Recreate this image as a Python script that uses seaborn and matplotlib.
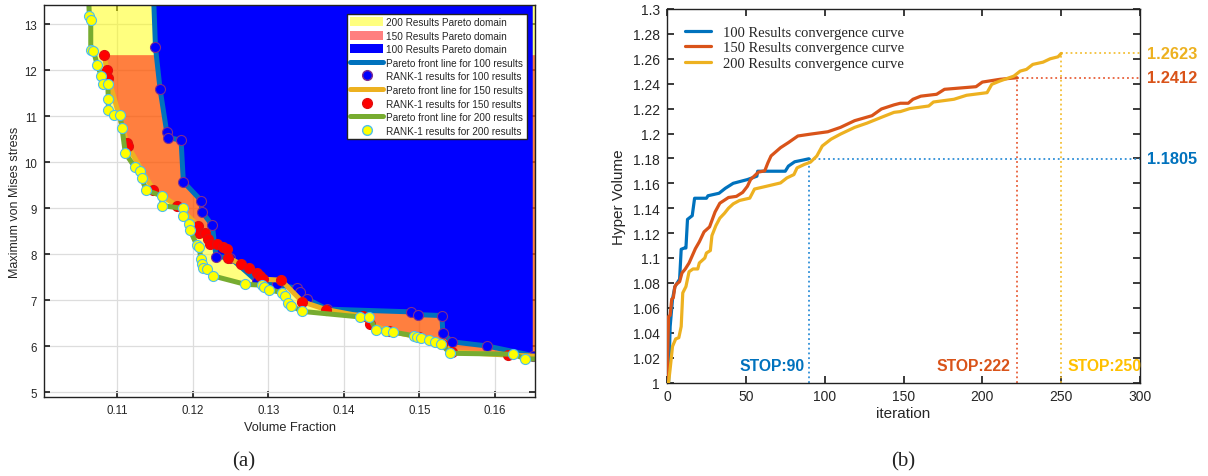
import numpy as np
import matplotlib
matplotlib.use("Agg")
import matplotlib.pyplot as plt
import matplotlib.transforms as mtransforms
import seaborn as sns
from matplotlib.patches import Patch
from matplotlib.lines import Line2D

# ---------------- data (a): Pareto fronts ----------------
front100_x = [0.1148, 0.11505, 0.11566, 0.11654, 0.11675, 0.11844, 0.11874, 0.12109, 0.12118,
              0.12258, 0.12306, 0.12493, 0.12846, 0.13112, 0.13376, 0.1342, 0.13517, 0.13774,
              0.1489, 0.14979, 0.15297, 0.1531, 0.15429, 0.15893, 0.1650]
front100_y = [13.6, 12.5, 11.59, 10.66, 10.54, 10.48, 9.58, 9.17, 8.93,
              8.63, 7.95, 7.93, 7.42, 7.35, 7.26, 7.19, 7.03, 6.81,
              6.75, 6.69, 6.67, 6.29, 6.10, 6.01, 5.80]

front150_x = [0.10828, 0.1086, 0.10881, 0.11125, 0.11138, 0.11477, 0.11795, 0.12073, 0.12086,
              0.12162, 0.12205, 0.12228, 0.12317, 0.12396, 0.12449, 0.12462, 0.12634, 0.1274,
              0.12846, 0.1289, 0.12934, 0.13168, 0.1345, 0.13764, 0.1425, 0.14348, 0.1460,
              0.1500, 0.1530, 0.1543, 0.16171, 0.1668]
front150_y = [12.33, 12.0, 11.84, 10.43, 10.36, 9.40, 9.05, 8.62, 8.47,
              8.46, 8.33, 8.22, 8.22, 8.15, 8.11, 7.93, 7.79, 7.71,
              7.60, 7.53, 7.46, 7.44, 6.97, 6.80, 6.65, 6.48, 6.33,
              6.20, 6.06, 5.88, 5.81, 5.78]

front200_x = [0.1062, 0.10629, 0.10648, 0.10648, 0.10682, 0.10735, 0.10788, 0.10815, 0.10873,
              0.10881, 0.10881, 0.1096, 0.11036, 0.11062, 0.11106, 0.1123, 0.11301, 0.11323,
              0.1138, 0.11588, 0.11588, 0.11866, 0.11866, 0.11954, 0.11963, 0.12052, 0.12086,
              0.12104, 0.12118, 0.12139, 0.12192, 0.12272, 0.12691, 0.12912, 0.12943, 0.13009,
              0.13177, 0.13221, 0.13265, 0.13301, 0.1345, 0.14215, 0.14334, 0.14427, 0.14559,
              0.14656, 0.1493, 0.14966, 0.15023, 0.15128, 0.15208, 0.15287, 0.15407, 0.16237,
              0.16404, 0.1668]
front200_y = [13.6, 13.18, 13.09, 12.44, 12.43, 12.115, 11.88, 11.70, 11.70,
              11.38, 11.14, 11.04, 11.04, 10.74, 10.20, 9.90, 9.82, 9.65,
              9.40, 9.27, 9.06, 9.0, 8.83, 8.66, 8.53, 8.20, 8.15,
              7.91, 7.79, 7.71, 7.69, 7.53, 7.35, 7.33, 7.30, 7.23,
              7.17, 7.10, 6.95, 6.88, 6.76, 6.64, 6.64, 6.35, 6.33,
              6.31, 6.23, 6.20, 6.18, 6.14, 6.10, 6.05, 5.85, 5.83,
              5.73, 5.72]

legend_a = ["200 Results Pareto domain", "150 Results Pareto domain", "100 Results Pareto domain",
            "Pareto front line for 100 results", "RANK-1 results for 100 results",
            "Pareto front line for 150 results", "RANK-1 results for 150 results",
            "Pareto front line for 200 results", "RANK-1 results for 200 results"]

# ---------------- data (b): convergence curves ----------------
iter100 = [0, 1, 2, 3.5, 5, 8, 9, 11, 12, 13, 16, 17.5, 25, 26, 33, 37, 42, 51, 57, 57.5,
           75, 77, 81, 86, 90]
hv100 = [1.0, 1.0, 1.045, 1.067, 1.077, 1.083, 1.107, 1.108, 1.108, 1.131, 1.134, 1.148,
         1.148, 1.150, 1.152, 1.156, 1.160, 1.163, 1.1657, 1.1697, 1.1697, 1.1738, 1.1773,
         1.1786, 1.1797]

iter150 = [0, 1, 2, 3, 4, 5, 6, 8, 9.5, 11.5, 14, 18, 20.5, 23.5, 27, 30.5, 33.5, 39, 44,
           48, 51, 53, 58, 62, 64, 66, 72, 77, 83, 91, 102, 110, 119, 130, 136, 144, 148,
           153, 156, 161, 171, 176, 196, 200, 211, 222]
hv150 = [1.0, 1.053, 1.054, 1.067, 1.068, 1.077, 1.079, 1.081, 1.088, 1.091, 1.096, 1.1075,
         1.113, 1.121, 1.125, 1.137, 1.144, 1.1486, 1.1495, 1.1527, 1.1576, 1.163, 1.169,
         1.170, 1.1765, 1.182, 1.1886, 1.1927, 1.198, 1.1995, 1.2014, 1.2049, 1.2103, 1.2143,
         1.2197, 1.223, 1.2243, 1.2243, 1.2275, 1.230, 1.2315, 1.2355, 1.2376, 1.2413,
         1.2435, 1.2448]

iter200 = [0, 1, 2, 3.5, 5.5, 7.5, 9, 10, 12, 14, 16.5, 19.5, 20.5, 24, 25, 27.5, 28.5, 31,
           33.5, 36.5, 39, 42, 46, 52.5, 55.5, 63, 72, 76, 80.5, 82.5, 87, 91, 95, 98.5, 104,
           110, 119, 127, 136, 144, 148, 154, 166, 169, 182, 190, 203, 206, 211, 220, 224,
           228, 232, 238.5, 243, 248, 250]
hv200 = [1.0, 1.0, 1.011, 1.029, 1.035, 1.036, 1.045, 1.072, 1.077, 1.089, 1.0912, 1.0912,
         1.096, 1.1, 1.104, 1.106, 1.118, 1.126, 1.132, 1.136, 1.140, 1.1435, 1.1462, 1.1481,
         1.1554, 1.1576, 1.1603, 1.1643, 1.167, 1.1724, 1.1751, 1.177, 1.1819, 1.19, 1.1954,
         1.1995, 1.2049, 1.2084, 1.213, 1.217, 1.2176, 1.22, 1.2221, 1.2253, 1.2275, 1.2307,
         1.2328, 1.2395, 1.2421, 1.2461, 1.2501, 1.2515, 1.2555, 1.2573, 1.26, 1.2616, 1.2643]

curve_labels = ["100 Results convergence curve", "150 Results convergence curve",
                "200 Results convergence curve"]
final_labels = ["1.1805", "1.2412", "1.2623"]

# ---------------- style ----------------
sns.set_theme(style="ticks")
plt.rcParams['font.family'] = ['Liberation Sans', 'DejaVu Sans']
plt.rcParams['axes.edgecolor'] = '#222222'

fig = plt.figure(figsize=(12.08, 4.77), dpi=100)
axA = fig.add_axes([44 / 1208, 1 - 398 / 477, 491 / 1208, 392 / 477])
axB = fig.add_axes([667 / 1208, 1 - 383.5 / 477, 473 / 1208, 373.5 / 477])

# ---------------- panel (a) ----------------
c_l100, c_l150, c_l200 = "#0072BD", "#EDB120", "#77AC30"
fronts = [(front200_x, front200_y), (front150_x, front150_y), (front100_x, front100_y)]
fill_cols = [("yellow", 0.5), ("red", 0.5), ("#0000FF", 1.0)]
for (fx, fy), (fc, al) in zip(fronts, fill_cols):
    px = list(fx) + [fx[-1]]
    py = list(fy) + [fy[0]]
    axA.fill(px, py, facecolor=fc, alpha=al, edgecolor='none', zorder=1)

line_specs = [
    (front100_x, front100_y, c_l100, "#0000FF", "#7E2F8E"),
    (front150_x, front150_y, c_l150, "#FF0000", "#E01010"),
    (front200_x, front200_y, c_l200, "#FFFF00", "#4DBEEE"),
]
z = 2
for fx, fy, lc, mf, me in line_specs:
    sns.lineplot(x=fx, y=fy, sort=False, estimator=None, color=lc, lw=3.6,
                 ax=axA, zorder=z)
    sns.scatterplot(x=fx, y=fy, s=52, color=mf, edgecolor=me, linewidth=0.8,
                    ax=axA, zorder=z + 1)
    z += 2

axA.set_xlim(0.10029, 0.1653)
axA.set_ylim(4.90, 13.42)
axA.set_xticks([0.11, 0.12, 0.13, 0.14, 0.15, 0.16])
axA.set_xticklabels(["0.11", "0.12", "0.13", "0.14", "0.15", "0.16"])
axA.set_yticks([5, 6, 7, 8, 9, 10, 11, 12, 13])
axA.grid(True, color='#DDDDDD', lw=0.9)
axA.set_axisbelow(True)
axA.tick_params(direction='in', length=4, labelsize=8.3, top=True, right=True,
                colors='#222222', labelcolor='#262626', pad=5)
axA.set_xlabel("Volume Fraction", fontsize=9.2, color='#262626', labelpad=4)
axA.set_ylabel("Maximum von Mises stress", fontsize=9.0, color='#262626', labelpad=2)
for sp in axA.spines.values():
    sp.set_linewidth(1.0)
    sp.set_zorder(20)

handles_a = [
    Patch(facecolor="yellow", alpha=0.5, edgecolor='none'),
    Patch(facecolor="red", alpha=0.5, edgecolor='none'),
    Patch(facecolor="#0000FF", edgecolor='none'),
    Line2D([], [], color=c_l100, lw=3.6),
    Line2D([], [], ls='none', marker='o', ms=7, mfc="#0000FF", mec="#7E2F8E"),
    Line2D([], [], color=c_l150, lw=3.6),
    Line2D([], [], ls='none', marker='o', ms=7, mfc="#FF0000", mec="#E01010"),
    Line2D([], [], color=c_l200, lw=3.6),
    Line2D([], [], ls='none', marker='o', ms=7, mfc="#FFFF00", mec="#4DBEEE"),
]
legA = axA.legend(handles_a, legend_a, loc='upper right', fontsize=7.2, frameon=True,
                  fancybox=False, framealpha=1, edgecolor='#222222', handlelength=3.3,
                  handleheight=1.0, handletextpad=0.3, labelspacing=0.36,
                  borderpad=0.35, borderaxespad=0.85)
legA.get_frame().set_linewidth(1.0)
legA.set_zorder(30)

# ---------------- panel (b) ----------------
cb, cr, cy = "#0072BD", "#D95319", "#EDB120"
curves = [(iter100, hv100, cb), (iter150, hv150, cr), (iter200, hv200, cy)]
for (it, hv, c), lab in zip(curves, curve_labels):
    sns.lineplot(x=it, y=hv, sort=False, estimator=None, color=c, lw=2.3, ax=axB,
                 label=lab, zorder=3)

dot_cols = ["#2E8FD8", "#E8603A", "#F3C038"]
for (it, hv, c), dc in zip(curves, dot_cols):
    stop, end = it[-1], hv[-1]
    axB.plot([stop, stop], [1.0, end], ls=':', color=dc, lw=1.3, zorder=2)
    axB.plot([stop, 300], [end, end], ls=':', color=dc, lw=1.3, zorder=2, clip_on=False)

trans = mtransforms.blended_transform_factory(axB.transAxes, axB.transData)
for (it, hv, c), lab in zip(curves, final_labels):
    axB.text(1.015, hv[-1], lab, transform=trans, ha='left', va='center', color=c,
             fontsize=11.8, fontweight='bold')

stop_cols = [cb, cr, "#FFC000"]
stop_offsets = [(-2.5, 'right'), (-4, 'right'), (4, 'left')]
for (it, hv, c), sc, (off, ha) in zip(curves, stop_cols, stop_offsets):
    stop = it[-1]
    axB.text(stop + off, 1.0133, f"STOP:{int(stop)}", ha=ha, va='center', color=sc,
             fontsize=11.3, fontweight='bold')

axB.set_xlim(0, 300)
axB.set_ylim(1.0, 1.3)
axB.set_xticks([0, 50, 100, 150, 200, 250, 300])
yt = [1.0, 1.02, 1.04, 1.06, 1.08, 1.1, 1.12, 1.14, 1.16, 1.18, 1.2, 1.22, 1.24, 1.26, 1.28, 1.3]
axB.set_yticks(yt)
axB.set_yticklabels([f"{v:g}" for v in yt])
axB.tick_params(direction='in', length=5, labelsize=10, top=True, right=True,
                colors='#222222', labelcolor='#262626', pad=5)
axB.set_xlabel("iteration", fontsize=11, color='#262626', labelpad=2)
axB.set_ylabel("Hyper Volume", fontsize=11, color='#262626', labelpad=5)
for sp in axB.spines.values():
    sp.set_linewidth(1.0)
axB.grid(False)

legB = axB.legend(loc='upper left', frameon=False, prop={'family': 'Liberation Serif', 'size': 10.5},
                  handlelength=1.8, handletextpad=0.8, labelspacing=0.15,
                  borderaxespad=0.5, bbox_to_anchor=(0.01, 0.99))

# ---------------- captions ----------------
fig.text(244 / 1208, 1 - 462 / 477, "(a)", ha='center', va='center',
         family='Liberation Serif', fontsize=15, color='#222222')
fig.text(903 / 1208, 1 - 462 / 477, "(b)", ha='center', va='center',
         family='Liberation Serif', fontsize=15, color='#222222')

fig.savefig("out.png", dpi=100)
